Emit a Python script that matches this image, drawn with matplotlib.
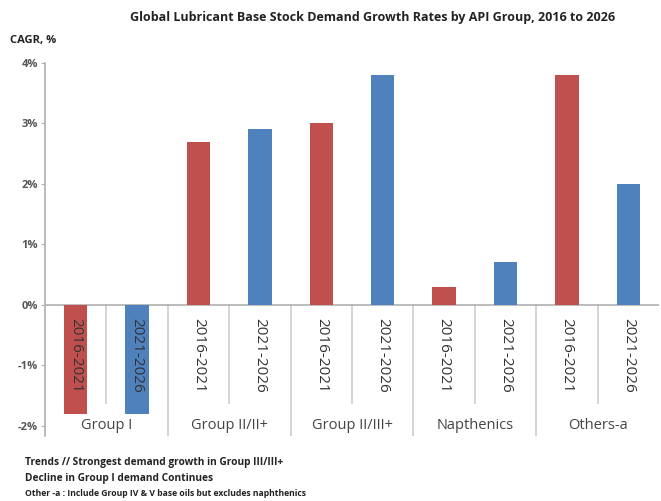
import matplotlib.pyplot as plt
import numpy as np

groups = ['Group I', 'Group II/II+', 'Group II/III+', 'Napthenics', 'Others-a']
periods = ['2016-2021', '2021-2026']
cagr_2016_2021 = [-1.8, 2.7, 3.0, 0.3, 3.8]
cagr_2021_2026 = [-1.8, 2.9, 3.8, 0.7, 2.0]
yticks = [-2, -1, 0, 1, 2, 3, 4]

red = '#c0504d'
blue = '#4f81bd'
gray = '#b0b0b0'

plt.rcParams['font.family'] = ['Open Sans', 'DejaVu Sans']

fig = plt.figure(figsize=(6.61, 5.01), dpi=100)
ax = fig.add_axes([45 / 661, 1 - 436 / 501, 614 / 661, 373 / 501])

n = len(groups)
xs_red = np.arange(n) * 2
xs_blue = xs_red + 1
ax.bar(xs_red, cagr_2016_2021, width=0.38, color=red, zorder=3)
ax.bar(xs_blue, cagr_2021_2026, width=0.38, color=blue, zorder=3)

ymin, ymax = -2.17, 4
ax.set_ylim(ymin, ymax)
ax.set_xlim(-0.5, 2 * n - 0.5)

# zero line
ax.axhline(0, color=gray, lw=1.2, zorder=2)

# separators
for i in range(n):
    ax.plot([2 * i + 0.5] * 2, [0, -1.62], color='#cccccc', lw=1.2, zorder=1)
    if i < n - 1:
        ax.plot([2 * i + 1.5] * 2, [0, ymin], color='#cccccc', lw=1.2, zorder=1)

# period labels inside the lower area
for i in range(n):
    for j, x in enumerate([xs_red[i], xs_blue[i]]):
        ax.text(x, -0.22, periods[j], rotation=270, ha='center', va='top',
                fontsize=11, color='#333333', zorder=4)
    ax.text(2 * i + 0.5, -2.0, groups[i], ha='center', va='center',
            fontsize=10.5, color='#444444')

ax.set_xticks([])
ax.set_yticks(yticks)
ax.set_yticklabels([f'{t}%' for t in yticks], fontsize=8, color='#555555',
                   fontweight='bold')
ax.tick_params(axis='y', length=3, color=gray, pad=2)
for s in ['top', 'right', 'bottom']:
    ax.spines[s].set_visible(False)
ax.spines['left'].set_color(gray)
ax.spines['left'].set_linewidth(1.2)

fig.text(373 / 661, 1 - 18 / 501,
         'Global Lubricant Base Stock Demand Growth Rates by API Group, 2016 to 2026',
         ha='center', va='center', fontsize=9, fontweight='bold', color='#222222')
fig.text(10 / 661, 1 - 41 / 501, 'CAGR, %', ha='left', va='center',
         fontsize=8, fontweight='bold', color='#222222')

fig.text(25 / 661, 1 - 463 / 501, 'Trends // Strongest demand growth in Group III/III+',
         ha='left', va='center', fontsize=7.3, fontweight='bold', color='#222222')
fig.text(25 / 661, 1 - 479 / 501, 'Decline in Group I demand Continues',
         ha='left', va='center', fontsize=7.3, fontweight='bold', color='#222222')
fig.text(25 / 661, 1 - 494 / 501, 'Other -a : Include Group IV & V base oils but excludes naphthenics',
         ha='left', va='center', fontsize=6.2, fontweight='bold', color='#222222')

fig.savefig('out.png', dpi=100)
